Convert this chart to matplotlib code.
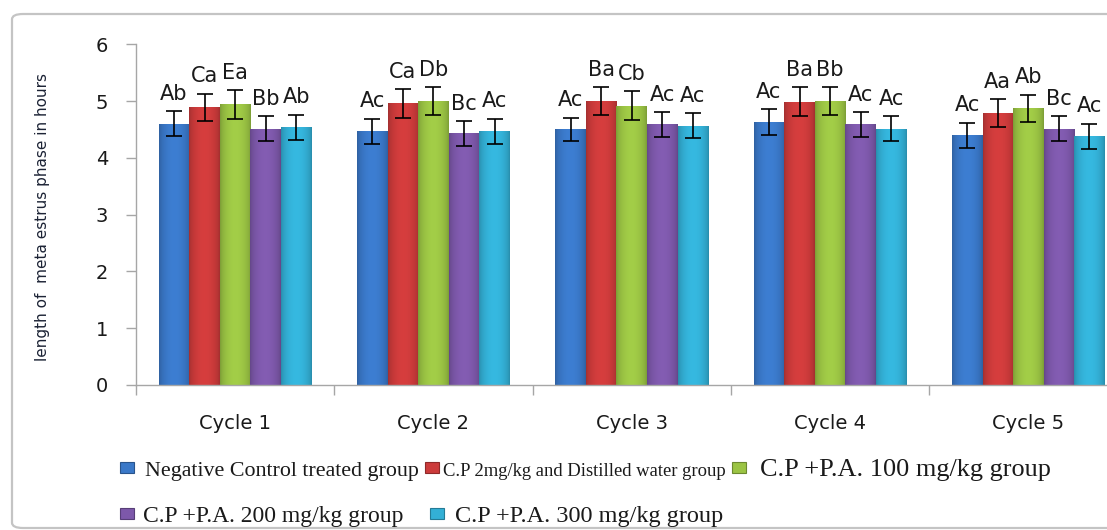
import numpy as np
import matplotlib
matplotlib.use("Agg")
import matplotlib.pyplot as plt
from matplotlib.patches import Rectangle, FancyBboxPatch
from matplotlib.colors import to_rgb

W, H = 1107, 530

cycles = ["Cycle 1", "Cycle 2", "Cycle 3", "Cycle 4", "Cycle 5"]
groups = ["Negative Control treated group",
          "C.P 2mg/kg and Distilled water group",
          "C.P +P.A. 100 mg/kg group",
          "C.P +P.A. 200 mg/kg group",
          "C.P +P.A. 300 mg/kg group"]
colors = ["#3A78C8", "#CC3B3B", "#9BC444", "#7D58AA", "#33B0D6"]

neg_ctrl = [4.60, 4.47, 4.50, 4.63, 4.40]
cp_dw = [4.89, 4.96, 5.00, 4.99, 4.79]
pa_100 = [4.94, 5.00, 4.92, 5.00, 4.87]
pa_200 = [4.51, 4.43, 4.59, 4.59, 4.51]
pa_300 = [4.54, 4.47, 4.57, 4.51, 4.38]

err_neg = [0.22, 0.22, 0.21, 0.23, 0.22]
err_cp = [0.24, 0.25, 0.25, 0.25, 0.24]
err_100 = [0.25, 0.25, 0.25, 0.25, 0.24]
err_200 = [0.22, 0.22, 0.22, 0.22, 0.22]
err_300 = [0.22, 0.22, 0.22, 0.22, 0.22]

lab_neg = ["Ab", "Ac", "Ac", "Ac", "Ac"]
lab_cp = ["Ca", "Ca", "Ba", "Ba", "Aa"]
lab_100 = ["Ea", "Db", "Cb", "Bb", "Ab"]
lab_200 = ["Bb", "Bc", "Ac", "Ac", "Bc"]
lab_300 = ["Ab", "Ac", "Ac", "Ac", "Ac"]

series = [neg_ctrl, cp_dw, pa_100, pa_200, pa_300]
errors = [err_neg, err_cp, err_100, err_200, err_300]
letters = [lab_neg, lab_cp, lab_100, lab_200, lab_300]


def fx(x):
    return x / W


def fy(y):
    return 1 - y / H


fig = plt.figure(figsize=(W / 100, H / 100), dpi=100)

# chart frame
frame = FancyBboxPatch((fx(12), fy(528)), fx(1140 - 12), fy(14) - fy(528),
                       boxstyle="round,pad=0,rounding_size=0.01",
                       transform=fig.transFigure, facecolor="none",
                       edgecolor="#C4C4C4", linewidth=1.6, zorder=-1)
fig.patches.append(frame)

ax = fig.add_axes([fx(136), fy(385), (1127.5 - 136) / W, (385 - 44.3) / H])
ax.set_facecolor("none")

x = np.arange(len(cycles))
bw = 0.154
profile = 0.80 + 0.25 * np.sin(np.linspace(0, np.pi, 40)) ** 0.6

for i, (vals, errs, labs) in enumerate(zip(series, errors, letters)):
    pos = x + (i - 2) * bw
    bars = ax.bar(pos, vals, width=bw, color=colors[i], edgecolor="none", zorder=2)
    base = np.array(to_rgb(colors[i]))
    grad = np.clip(profile[:, None] * base[None, :], 0, 1)[None, :, :]
    for b in bars:
        im = ax.imshow(grad, extent=[b.get_x(), b.get_x() + b.get_width(), 0, b.get_height()],
                       aspect="auto", interpolation="bicubic", zorder=2.1)
        im.set_clip_path(b)
    ax.errorbar(pos, vals, yerr=errs, fmt="none", ecolor="black", elinewidth=1.2,
                capsize=6, capthick=1.2, zorder=3)
    for p, v, e, t in zip(pos, vals, errs, labs):
        ax.text(p, v + e + 0.2, t, ha="center", va="baseline", fontsize=15,
                family="DejaVu Sans", color="#1a1a1a", zorder=4)

ax.set_xlim(-0.5, 4.5)
ax.set_ylim(0, 6)
ax.set_yticks(range(0, 7))
ax.set_xticks(x)
ax.set_xticklabels(cycles)
ax.set_xticks(np.arange(-0.5, 5, 1), minor=True)
ax.tick_params(axis="x", which="major", length=0, pad=21, labelsize=14)
ax.tick_params(axis="x", which="minor", length=7, width=1, color="#A6A6A6")
ax.tick_params(axis="y", length=7, width=1, color="#A6A6A6", pad=13, labelsize=14)
for lab in ax.get_xticklabels() + ax.get_yticklabels():
    lab.set_color("#1a1a1a")
for s in ["top", "right"]:
    ax.spines[s].set_visible(False)
for s in ["left", "bottom"]:
    ax.spines[s].set_color("#A6A6A6")
    ax.spines[s].set_linewidth(1)

fig.text(fx(43), fy(217), "length of  meta estrus phase in hours", rotation=90,
         ha="center", va="center", fontsize=11,
         family="DejaVu Sans", color="#1c2335")

# legend, laid out like the original two-row Excel legend
leg_layout = [(120, 145, 476, 15.8), (425, 443, 476, 13.4), (732, 760, 476, 18.9),
              (120, 143, 522, 17.0), (430, 455, 522, 17.5)]
for (mx, tx, base_y, fs), name, c in zip(leg_layout, groups, colors):
    fig.patches.append(Rectangle((fx(mx), fy(base_y - 3)), fx(14), fy(0) - fy(11),
                                 transform=fig.transFigure, facecolor=c,
                                 edgecolor=np.array(to_rgb(c)) * 0.7, linewidth=0.8))
    fig.text(fx(tx), fy(base_y), name, ha="left", va="baseline", fontsize=fs,
             family="Liberation Serif", color="#1a1a1a")

fig.savefig("out.png", dpi=100)
